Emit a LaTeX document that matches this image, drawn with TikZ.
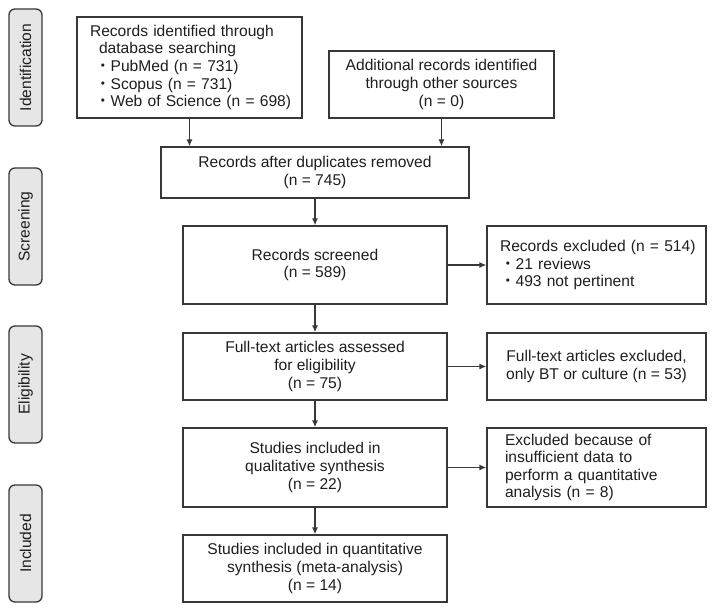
\documentclass[tikz,border=0pt]{standalone}
\usepackage{fontspec}
\setmainfont{Liberation Sans}
\newfontfamily\cjkfont{Noto Sans CJK JP}
\newcommand{\bdot}{{\cjkfont ・}}
\usetikzlibrary{arrows.meta}
\definecolor{linec}{HTML}{383838}
\definecolor{textc}{HTML}{1E1E1E}
\definecolor{sidefill}{HTML}{E6E6E6}
\begin{document}
\begin{tikzpicture}[x=1pt,y=-1pt,
  every node/.style={font=\fontsize{15.6}{17.6}\selectfont, text=textc},
  box/.style={draw=linec, line width=1.3pt, rectangle, inner sep=0pt, align=center},
  side/.style={draw=linec, line width=1.3pt, fill=sidefill, rounded corners=6pt,
    minimum width=117pt, minimum height=33pt, rotate=90, inner sep=0pt},
  arr/.style={draw=linec, line width=1.3pt, -{Latex[length=7pt,width=6pt]}}
]
\useasboundingbox (0,0) rectangle (715,612);

% side labels
\node[side] (s1) at (25.5,67.5) {Identification};
\node[side] (s2) at (25.5,226.5) {Screening};
\node[side] (s3) at (25.5,384.5) {Eligibility};
\node[side] (s4) at (25.5,543.5) {Included};

% boxes
\node[box, align=left, text width=199pt, inner xsep=13pt, minimum height=101pt] (A) at (189.5,67.5)
  {\mbox{Records identified through}\\
   \mbox{\hspace*{9pt}database searching}\\
   \mbox{\hspace*{5pt}\bdot PubMed (n = 731)}\\
   \mbox{\hspace*{5pt}\bdot Scopus (n = 731)}\\
   \mbox{\hspace*{5pt}\bdot Web of Science (n = 698)}};
\node[box, minimum width=225pt, minimum height=67pt] (B) at (441.5,84.5)
  {Additional records identified\\ through other sources\\ (n = 0)};
\node[box, minimum width=308pt, minimum height=51pt] (C) at (315,172.5)
  {Records after duplicates removed\\ (n = 745)};
\node[box, minimum width=264pt, minimum height=78pt] (D) at (315,265)
  {Records screened\\ (n = 589)};
\node[box, align=left, text width=193pt, inner xsep=13pt, minimum height=78pt] (E) at (596.5,265)
  {\mbox{Records excluded (n = 514)}\\
   \mbox{\bdot 21 reviews}\\
   \mbox{\bdot 493 not pertinent}};
\node[box, minimum width=264pt, minimum height=67pt] (F) at (315,366.5)
  {Full-text articles assessed\\ for eligibility\\ (n = 75)};
\node[box, minimum width=219pt, minimum height=67pt] (G) at (596.5,366.5)
  {Full-text articles excluded,\\ only BT or culture (n = 53)};
\node[box, minimum width=264pt, minimum height=79pt] (H) at (315,467.5)
  {Studies included in\\ qualitative synthesis\\ (n = 22)};
\node[box, align=left, text width=183pt, inner xsep=18pt, minimum height=79pt] (I) at (596.5,467.5)
  {\mbox{Excluded because of}\\ \mbox{insufficient data to}\\ \mbox{perform a quantitative}\\ \mbox{analysis (n = 8)}};
\node[box, minimum width=264pt, minimum height=67pt] (J) at (315,568.5)
  {Studies included in quantitative\\ synthesis (meta-analysis)\\ (n = 14)};

% connectors
\draw[arr] (A.south) -- (A.south |- C.north);
\draw[arr] (B.south) -- (B.south |- C.north);
\draw[arr] (C.south) -- (D.north);
\draw[arr] (D.east) -- (E.west);
\draw[arr] (D.south) -- (F.north);
\draw[arr] (F.east) -- (G.west);
\draw[arr] (F.south) -- (H.north);
\draw[arr] (H.east) -- (I.west);
\draw[arr] (H.south) -- (J.north);
\end{tikzpicture}
\end{document}
